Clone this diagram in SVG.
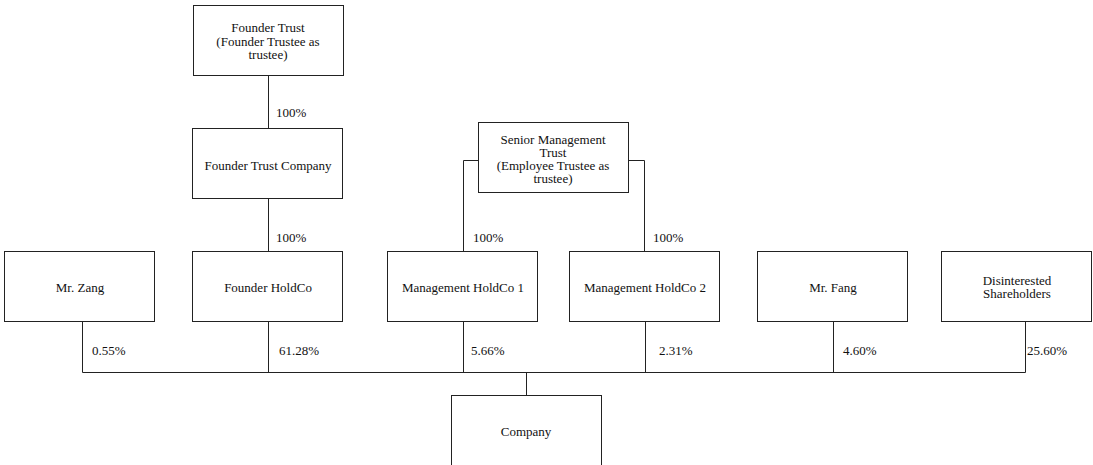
<svg xmlns="http://www.w3.org/2000/svg" width="1093" height="465" viewBox="0 0 1093 465" font-family="'Liberation Serif', 'Times New Roman', Times, serif" font-size="13">
<style>
rect.n{fill:#fff;stroke:#222;stroke-width:1}
text{font-family:'Liberation Serif','Times New Roman',Times,serif;font-size:13px;fill:#111}
text.c{text-anchor:middle}
.e{fill:none;stroke:#222;stroke-width:1}
</style>
<rect width="1093" height="465" fill="#fff"/>
<g id="connectors">
<path class="e" d="M268.5 75V128M268.5 199V251"/>
<path class="e" d="M478 160.5H463.5V251M629 160.5H644.5V251"/>
<path class="e" d="M82.5 321V372.5M268.5 321V372.5M463.5 321V372.5M645.5 321V372.5M833.5 321V372.5M1025.5 321V372.5M82.5 372.5H1025.5M526.5 372.5V395"/>
<text x="276" y="117">100%</text>
<text x="276" y="241.5">100%</text>
<text x="473" y="241.5">100%</text>
<text x="653" y="241.5">100%</text>
<text x="92" y="354.5">0.55%</text>
<text x="279" y="354.5">61.28%</text>
<text x="471" y="354.5">5.66%</text>
<text x="659" y="354.5">2.31%</text>
<text x="843" y="354.5">4.60%</text>
<text x="1027" y="354.5">25.60%</text>
</g>
<g id="founder-trust">
<rect class="n" x="193.5" y="5.5" width="150" height="70"/>
<text class="c" x="268" y="31.5">Founder Trust</text>
<text class="c" x="268" y="45.5">(Founder Trustee as</text>
<text class="c" x="268" y="58.5">trustee)</text>
</g>
<g id="founder-trust-company">
<rect class="n" x="192.5" y="128.5" width="150" height="70"/>
<text class="c" x="268" y="170">Founder Trust Company</text>
</g>
<g id="senior-management-trust">
<rect class="n" x="478.5" y="122.5" width="150" height="70"/>
<text class="c" x="553" y="143.5">Senior Management</text>
<text class="c" x="553" y="156.5">Trust</text>
<text class="c" x="553" y="169.5">(Employee Trustee as</text>
<text class="c" x="553" y="183">trustee)</text>
</g>
<g id="mr-zang">
<rect class="n" x="4.5" y="251.5" width="150" height="70"/>
<text class="c" x="80" y="291.5">Mr. Zang</text>
</g>
<g id="founder-holdco">
<rect class="n" x="192.5" y="251.5" width="150" height="70"/>
<text class="c" x="268" y="291.5">Founder HoldCo</text>
</g>
<g id="management-holdco-1">
<rect class="n" x="387.5" y="251.5" width="150" height="70"/>
<text class="c" x="463" y="291.5">Management HoldCo 1</text>
</g>
<g id="management-holdco-2">
<rect class="n" x="569.5" y="251.5" width="150" height="70"/>
<text class="c" x="645" y="291.5">Management HoldCo 2</text>
</g>
<g id="mr-fang">
<rect class="n" x="757.5" y="251.5" width="150" height="70"/>
<text class="c" x="833" y="291.5">Mr. Fang</text>
</g>
<g id="disinterested-shareholders">
<rect class="n" x="941.5" y="251.5" width="150" height="70"/>
<text class="c" x="1017" y="284.5">Disinterested</text>
<text class="c" x="1017" y="297.5">Shareholders</text>
</g>
<g id="company">
<rect class="n" x="451.5" y="395.5" width="150" height="80"/>
<text class="c" x="526" y="435.5">Company</text>
</g>
</svg>
